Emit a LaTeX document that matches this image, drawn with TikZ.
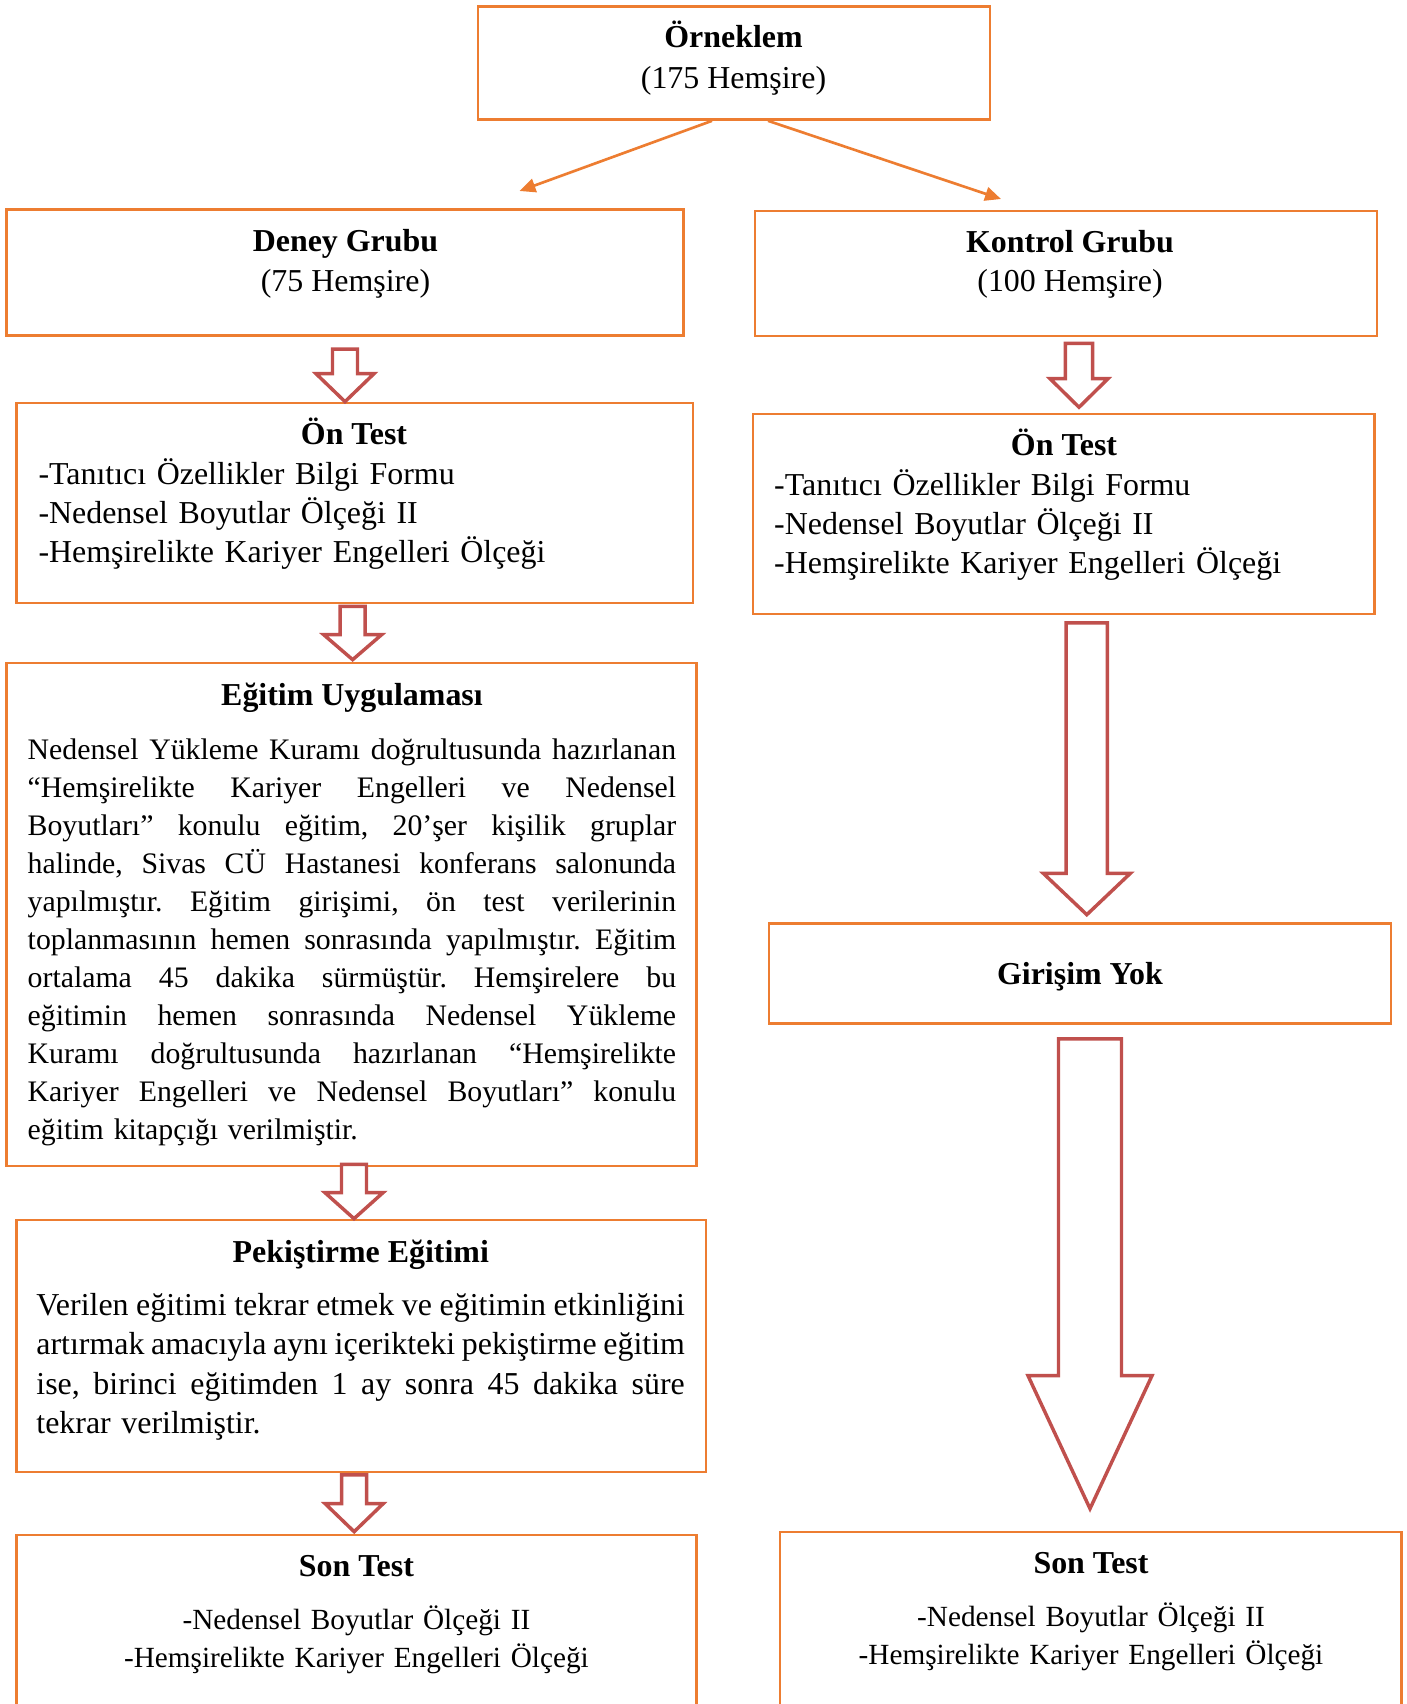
\documentclass[tikz,border=0pt]{standalone}
\usepackage{fontspec}
\setmainfont{Liberation Serif}
\usetikzlibrary{arrows.meta,calc,fit,positioning}
\definecolor{boxorange}{HTML}{ED7D31}
\definecolor{arrowred}{HTML}{C0504D}
\frenchspacing
% one pixel of the layout grid
\newcommand{\upx}{0.376pt}
% hollow block arrow: dx, from, to, top gap, tip gap, half shaft, half head, head length
\newcommand{\fatarrow}[8]{%
  \draw[fatarrow] let \p1=(#2.south), \p2=(#3.north) in
    ({\x1+(#1-#6)*\upx},{\y1-(#4)*\upx})
    -- ({\x1+(#1+#6)*\upx},{\y1-(#4)*\upx})
    -- ({\x1+(#1+#6)*\upx},{\y2+(#5+#8)*\upx})
    -- ({\x1+(#1+#7)*\upx},{\y2+(#5+#8)*\upx})
    -- ({\x1+(#1)*\upx},{\y2+(#5)*\upx})
    -- ({\x1+(#1-#7)*\upx},{\y2+(#5+#8)*\upx})
    -- ({\x1+(#1-#6)*\upx},{\y2+(#5+#8)*\upx})
    -- cycle;}
% one justified line of a paragraph: the words spread over the full width
\def\spreadwords#1 #2\nomorewords{#1\if\relax\detokenize{#2}\relax\else
  \hfill\spreadwords#2\nomorewords\fi}
\newcommand{\fullline}[1]{\leavevmode\hbox to 243.8pt{\spreadwords#1 \nomorewords}}
\tikzset{
  box/.style={draw=boxorange, line width=1pt, inner sep=0pt},
  title/.style={font=\fontsize{12}{14.5}\selectfont\bfseries, anchor=base, inner sep=0pt},
  sub/.style={font=\fontsize{12}{14.5}\selectfont, anchor=base, inner sep=0pt},
  list/.style={font=\fontsize{12}{14.7}\selectfont, anchor=base west, inner sep=0pt,
    text width=#1, align=left},
  centred/.style={font=\fontsize{11}{14.3}\selectfont, anchor=base, inner sep=0pt,
    text width=#1, align=center},
  para/.style={anchor=base west, inner sep=0pt, text width=245pt, align=left},
  link/.style={draw=boxorange, line width=1pt, -{Triangle[length=6pt,width=5.2pt]}},
  fatarrow/.style={draw=arrowred, line width=1.3pt, fill=white, line join=miter}
}
\begin{document}
\begin{tikzpicture}[x=0.376pt, y=-0.376pt]
  \useasboundingbox (0,0) rectangle (1406,1704);

  % boxes
  \node[box, fit={(478,6.5) (990,119.5)}] (ornek) {};
  \node[box, fit={(6.5,209.7) (683.5,335.8)}] (deney) {};
  \node[box, fit={(755,211) (1377,336)}] (kontrol) {};
  \node[box, fit={(16.3,403) (693,603)}] (ontestL) {};
  \node[box, fit={(753,414) (1374.6,614)}] (ontestR) {};
  \node[box, fit={(6.5,663) (696.5,1166)}] (egitim) {};
  \node[box, fit={(769,923.6) (1391,1023.6)}] (girisim) {};
  \node[box, fit={(16.3,1220) (706,1472)}] (pekistirme) {};
  \node[box, fit={(16.3,1535) (696.5,1760)}] (sontestL) {};
  \node[box, fit={(780,1532) (1401.7,1760)}] (sontestR) {};

  % texts
  \node[title] (ornekT) at (733.5,47.5) {Örneklem};
  \node[sub] (ornekS) at (733.5,88.5) {(175 Hemşire)};
  \node[title] (deneyT) at (345.5,252) {Deney Grubu};
  \node[sub] (deneyS) at (345.5,291) {(75 Hemşire)};
  \node[title] (kontrolT) at (1070,253) {Kontrol Grubu};
  \node[sub] (kontrolS) at (1070,292) {(100 Hemşire)};

  \node[title] (ontestLT) at (354,444) {Ön Test};
  \node[list=240pt] (ontestLB) at (38,484) {-Tanıtıcı Özellikler Bilgi Formu\\
    -Nedensel Boyutlar Ölçeği II\\
    -Hemşirelikte Kariyer Engelleri Ölçeği};
  \node[title] (ontestRT) at (1064,455) {Ön Test};
  \node[list=220pt] (ontestRB) at (773.7,495) {-Tanıtıcı Özellikler Bilgi Formu\\
    -Nedensel Boyutlar Ölçeği II\\
    -Hemşirelikte Kariyer Engelleri Ölçeği};

  \node[title] (egitimT) at (352,705) {Eğitim Uygulaması};
  \node[para, font=\fontsize{11.2}{14.3}\selectfont] (egitimB) at (27.2,759) {%
    \fullline{Nedensel Yükleme Kuramı doğrultusunda hazırlanan}\\
    \fullline{“Hemşirelikte Kariyer Engelleri ve Nedensel}\\
    \fullline{Boyutları” konulu eğitim, 20’şer kişilik gruplar}\\
    \fullline{halinde, Sivas CÜ Hastanesi konferans salonunda}\\
    \fullline{yapılmıştır. Eğitim girişimi, ön test verilerinin}\\
    \fullline{toplanmasının hemen sonrasında yapılmıştır. Eğitim}\\
    \fullline{ortalama 45 dakika sürmüştür. Hemşirelere bu}\\
    \fullline{eğitimin hemen sonrasında Nedensel Yükleme}\\
    \fullline{Kuramı doğrultusunda hazırlanan “Hemşirelikte}\\
    \fullline{Kariyer Engelleri ve Nedensel Boyutları” konulu}\\
    eğitim kitapçığı verilmiştir.};

  \node[title] (girisimT) at (1080,984) {Girişim Yok};

  \node[title] (pekistirmeT) at (360.8,1262) {Pekiştirme Eğitimi};
  \node[para, font=\fontsize{12}{14.85}\selectfont] (pekistirmeB) at (35.9,1315) {%
    \fullline{Verilen eğitimi tekrar etmek ve eğitimin etkinliğini}\\
    \fullline{artırmak amacıyla aynı içerikteki pekiştirme eğitim}\\
    \fullline{ise, birinci eğitimden 1 ay sonra 45 dakika süre}\\
    tekrar verilmiştir.};

  \node[title] (sontestLT) at (356.4,1576) {Son Test};
  \node[centred=240pt] (sontestLB) at (356.4,1629) {-Nedensel Boyutlar Ölçeği II\\
    -Hemşirelikte Kariyer Engelleri Ölçeği};
  \node[title] (sontestRT) at (1091,1573) {Son Test};
  \node[centred=240pt] (sontestRB) at (1091,1626) {-Nedensel Boyutlar Ölçeği II\\
    -Hemşirelikte Kariyer Engelleri Ölçeği};

  % split of the sample
  \coordinate (tipL) at (519.5,191);
  \coordinate (tipR) at (1001,199);
  \draw[link] ($(ornek.south)+(-22,0)$) -- (tipL);
  \draw[link] ($(ornek.south)+(34,0)$) -- (tipR);

  % block arrows
  \fatarrow{0}{deney}{ontestL}{12}{0}{12.5}{29}{28}
  \fatarrow{-2}{ontestL}{egitim}{2}{2}{12.5}{29}{25}
  \fatarrow{2.5}{egitim}{pekistirme}{-3}{0}{12.5}{29}{26}
  \fatarrow{-7}{pekistirme}{sontestL}{1.5}{2}{12.5}{29}{28}
  \fatarrow{13}{kontrol}{ontestR}{6}{5.4}{13.6}{29}{28.6}
  \fatarrow{23}{ontestR}{girisim}{7.5}{7.6}{20.6}{43.5}{41.3}
  \fatarrow{10}{girisim}{sontestR}{14}{22}{31.5}{62}{133}
\end{tikzpicture}
\end{document}
